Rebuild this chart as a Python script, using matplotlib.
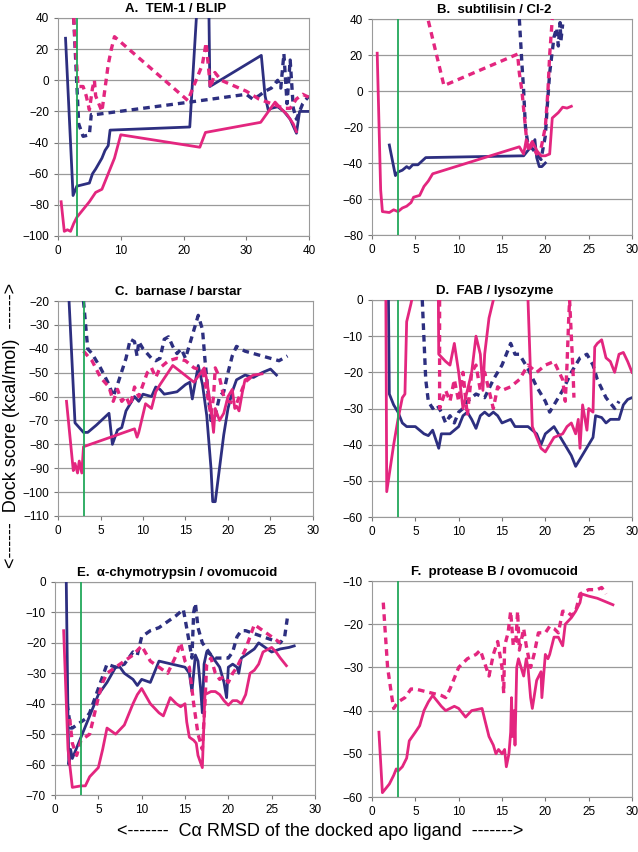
import matplotlib
matplotlib.use("Agg")
import matplotlib.pyplot as plt

plt.rcParams['font.family'] = ['Liberation Sans', 'DejaVu Sans']

NAVY = "#2d2f80"
MAGENTA = "#e3267f"
GREEN = "#22a85a"

# ---------- A. TEM-1 / BLIP ----------
a_navy_x = [1.2, 2.4, 3, 4, 5, 5.5, 6, 7, 7.5, 8, 8.3, 21, 22.5, 24, 24.2, 32.4, 33, 33.5, 34, 35, 36, 37, 38, 38.5, 40]
a_navy_y = [27, -74, -68, -67, -66, -60, -57, -50, -45, -42, -32, -30, 70, 60, -4, 16, -10, -19, -18, -17, -20, -25, -34, -20, -20]
a_navyd_x = [2.5, 3.3, 4, 5, 5.3, 6, 21, 30, 31, 32, 33, 34, 35, 35.5, 36, 36.5, 37, 37.5, 38, 39, 40]
a_navyd_y = [40, -28, -36, -35, -22, -22, -14, -9, -12, -10, -7, -5, 0, -5, 17, -15, 13, -18, -25, -15, -10]
a_mag_x = [0.5, 1, 1.5, 2, 2.5, 3, 4, 5, 5.5, 6, 7, 7.5, 8, 9, 10, 22.6, 23.5, 32.3, 34.6, 35.5, 36.5, 37.5, 38]
a_mag_y = [-78, -97, -96, -97, -92, -88, -83, -78, -75, -72, -70, -65, -60, -50, -35, -43, -33.5, -27, -14, -18, -22, -28, -33]
a_magd_x = [2.5, 3.2, 4, 4.5, 5, 5.5, 5.8, 6, 6.5, 7, 7.5, 8, 8.5, 9, 20.7, 22, 23, 23.6, 24.3, 25, 26, 30, 32, 34, 36, 37, 38, 39, 40]
a_magd_y = [40, -4, -4, -10, -19, -5, 0, -10, -15, -20, -5, 10, 20, 28, -13, 0, 10, 24, -5, 5, 0, -7, -12, -15, -18, -18, -12, -9, -11]

# ---------- B. subtilisin / CI-2 ----------
b_mag_x = [0.6, 1, 1.2, 2, 2.5, 3, 3.5, 4, 4.5, 4.8, 5.5, 6, 6.5, 7, 17, 17.5, 17.8, 18, 18.5, 19, 19.5, 20, 20.5, 20.8, 21.5, 22, 22.5, 23]
b_mag_y = [21, -55, -67, -67.5, -66, -67, -65, -64, -62, -59, -58, -53, -50, -46, -31, -35, -27, -32, -28, -33, -36, -36, -35, -15, -12, -9, -9.5, -8.5]
b_navy_x = [2, 2.7, 3, 3.5, 4, 4.3, 4.7, 5.3, 6.2, 17.5, 18, 18.5, 18.8, 19, 19.3, 19.6, 20]
b_navy_y = [-30, -47, -45, -44, -42, -43, -41, -41, -37, -36, -33, -30, -27, -37, -42, -42, -40]
b_navyd_x = [17, 17.3, 17.5, 17.7, 18, 18.5, 19, 19.5, 20, 20.2, 20.5, 21, 21.3, 21.5, 21.7, 21.8, 22]
b_navyd_y = [40, 15, 0, -20, -30, -32, -35, -38, -25, -10, 10, 30, 35, 25, 38, 28, 37]
b_magd_x = [6.5, 8.3, 16.8, 17, 17.3, 17.5, 17.8, 18, 18.5, 19, 19.5, 20, 20.3, 20.5, 20.8]
b_magd_y = [39, 3, 20.5, 10, 0, -10, -25, -33, -30, -35, -32, -20, 0, 20, 40]

# ---------- C. barnase / barstar ----------
c_navy_x = [1.3, 2, 3, 3.5, 4.5, 6, 6.4, 7, 7.5, 8, 8.5, 9, 9.5, 10, 11, 11.5, 12, 12.5, 14, 15, 15.5, 15.8, 16.5, 17, 17.5, 18, 18.2, 18.5, 19, 19.5, 20, 20.5, 21, 22, 23, 24, 25, 25.7]
c_navy_y = [-20, -71, -75, -75, -72, -67, -80, -74, -73, -66, -63, -60, -62, -59, -60, -56, -57, -59, -58, -55, -54, -61, -47, -55, -68, -90, -104, -104, -90, -76, -65, -58, -53, -51, -52, -50, -48.5, -51]
c_navyd_x = [3, 3.5, 4, 5, 6, 6.5, 7, 8, 8.5, 9, 9.3, 9.5, 10, 10.5, 11, 11.5, 12, 12.5, 13, 13.5, 14, 14.5, 15, 15.5, 16, 16.5, 17, 17.3, 17.7, 18, 18.5, 19, 19.5, 20, 20.5, 21, 22, 23, 25, 26, 27]
c_navyd_y = [-20, -40, -42, -48, -55, -60, -55, -44, -36, -37, -43, -37, -40, -42, -44, -45, -44, -36, -35, -39, -42, -40, -44, -38, -32, -26, -32, -45, -60, -70, -68, -60, -58, -50, -43, -39, -41, -42, -44, -45, -43]
c_mag_x = [1, 1.8, 2, 2.3, 2.5, 2.8, 3, 9, 9.3, 9.5, 10.3, 11, 11.5, 12, 13.5, 16, 16.8, 17.2, 17.5, 18, 18.3, 18.5, 19, 19.5, 20, 20.5, 20.8, 21, 21.3, 21.7, 22, 23, 24]
c_mag_y = [-62, -91, -88, -92, -87, -92, -81, -73.5, -77, -75, -63, -65, -58, -55, -47, -54, -50, -48, -53, -65, -75, -65, -70, -67, -60, -57, -65, -64, -66, -58, -53, -51, -50.5]
c_magd_x = [3, 4, 5, 6, 6.5, 7, 7.5, 8, 8.5, 9, 9.5, 10, 10.5, 11, 11.5, 12, 13, 14, 15, 16, 17, 17.5, 18, 18.3, 18.5, 19, 19.5, 20, 21, 22, 23]
c_magd_y = [-41, -45, -52, -56, -62, -57, -62, -60, -64, -56, -60, -55, -50, -48, -52, -48, -45, -44, -45, -48, -49, -58, -68, -60, -48, -52, -60, -62, -63, -54, -51]

# ---------- D. FAB / lysozyme ----------
d_navy_x = [1.9, 2, 2.5, 3, 3.5, 4, 5, 5.5, 6, 6.5, 7, 7.7, 8, 9, 9.5, 10, 10.5, 11, 11.5, 12, 12.5, 13, 13.5, 14, 14.5, 15, 16, 16.5, 17, 18, 18.5, 19, 19.5, 20, 21, 22, 23, 23.5, 24, 25, 25.5, 25.8, 26.5, 27, 27.5, 28.5, 29, 29.5, 30]
d_navy_y = [0, -26, -29, -31, -34, -35, -35, -36, -37, -37.5, -36, -41, -37, -37, -36, -35, -32, -31, -33, -35.5, -32, -31, -32, -31, -32, -34, -33, -35, -35, -35, -36, -37, -40, -37, -35, -39, -43, -46, -44, -40, -38, -32, -32.5, -34, -33, -33, -29, -27.5, -27]
d_navyd_x = [5.8, 6.2, 6.5, 7, 7.5, 8, 8.5, 9, 9.5, 10, 10.5, 11, 11.5, 12, 13, 14, 15, 16, 16.5, 17, 18, 19, 20, 20.5, 21, 22, 23, 24, 24.8, 25.5, 26, 27, 28, 28.5]
d_navyd_y = [0, -22, -28, -30, -29, -31, -34, -32, -34, -31, -30, -28, -27, -26, -27, -22, -18, -12, -15, -15, -19, -24, -28, -31, -29, -25, -20, -16, -15, -18, -22, -27, -30, -28]
d_mag_x = [1.6, 1.7, 2.5, 3, 3.5, 3.8, 4, 4.5, 5, 6.3, 7.6, 7.7, 8.5, 9, 9.5, 10, 10.5, 11, 11.5, 12, 12.5, 12.8, 13, 13.5, 14, 15.5, 17.5, 18, 18.5, 19, 19.5, 20, 20.5, 21, 22, 22.5, 23, 23.5, 23.8, 24, 24.3, 24.8, 25, 25.5, 25.7, 26, 26.5, 27, 27.5, 28, 28.5, 29, 29.5, 30]
d_mag_y = [0, -53, -40, -33, -27, -26, -6, -1, 5, 30, 20, -15, -17, -18, -12, -20, -30, -25, -20, -10, -15, -25, -15, -5, 0, 10, 10, 0, -35, -38, -41, -42, -40, -38, -37, -35, -34, -37, -33, -41, -29, -36, -30, -31, -13, -12, -11, -16, -17, -20, -15, -14.5, -17, -20]
d_magd_x = [7.8, 7.8, 8.5, 9, 9.5, 10, 10.5, 11, 11.5, 12, 12.5, 13, 13.5, 14, 14.5, 15, 16, 17, 18, 19, 20, 21, 22, 22.3, 22.5, 22.7, 22.8, 23, 23.2, 23.3]
d_magd_y = [0, -30, -25, -28, -22, -28, -20, -32, -20, -18, -25, -20, -25, -30, -24, -25, -24, -22, -18, -20, -18, -17, -22, -28, -18, -5, 0, -10, -20, -27]

# ---------- E. alpha-chymotrypsin / ovomucoid ----------
e_navy_x = [1.3, 1.5, 1.6, 1.8, 2, 3, 4, 5, 6, 7, 7.5, 8, 9, 9.5, 10, 11, 12, 15, 15.5, 15.8, 16.2, 16.5, 16.8, 17, 17.2, 17.5, 18, 18.5, 19, 19.5, 19.8, 20, 20.5, 21, 21.2, 21.5, 22, 23, 23.5, 24, 25, 26, 27, 27.6]
e_navy_y = [0, -45, -60, -55, -58, -51, -44, -37, -33, -28, -28, -30, -32, -34, -32, -33, -26, -28, -30, -36, -24, -26, -35, -43, -27, -23, -24, -26, -28, -33, -38, -28, -27, -28, -30, -25, -24, -22, -20, -21, -23, -22, -21.5, -21]
e_navyd_x = [1.4, 1.8, 2, 3, 3.5, 4, 5, 6, 6.5, 7, 8, 9, 9.5, 10, 11, 12, 13, 14, 14.8, 15, 15.5, 15.8, 16, 16.2, 16.5, 17, 17.5, 18, 18.5, 19, 19.5, 20, 20.5, 21, 21.5, 22, 23, 24, 25, 26, 26.5, 26.8]
e_navyd_y = [-40, -48, -48, -46, -45, -43, -35, -27, -27.5, -28, -27, -23, -24, -18, -16, -15, -13, -11, -9, -12, -20, -25, -10, -7, -15, -20, -22, -24, -25, -25, -25, -25, -23, -18, -16, -16, -17, -18, -19, -20, -18, -12]
e_mag_x = [1, 1.5, 2, 3, 3.5, 4, 5, 5.5, 6, 6.5, 7, 8, 9, 9.5, 10, 11, 12, 12.5, 13.3, 14, 14.5, 15, 15.2, 15.5, 16, 16.3, 16.5, 17, 17.3, 18, 18.5, 19, 19.5, 20, 20.5, 21, 21.5, 22, 22.5, 23, 23.5, 24, 25, 25.5, 26, 26.7]
e_mag_y = [-16, -55, -67.5, -67, -67, -64, -61, -55, -48, -49, -50, -47, -40, -37, -35, -40, -43, -44, -38, -40, -41, -40, -46, -51, -52, -53, -57, -61, -37, -36, -36, -37, -39, -40.5, -39, -39, -40, -37, -30, -29, -27, -23, -21.5, -23, -25, -27.5]
e_magd_x = [1.7, 2, 2.5, 3, 4, 5, 5.5, 6, 7, 8, 9, 10, 11, 12, 13, 14, 14.5, 15, 15.5, 16, 16.5, 17, 17.3, 17.5, 18, 18.5, 19, 19.5, 20, 20.5, 21, 22, 22.5, 23, 24, 25, 26]
e_magd_y = [-45, -53, -57, -52, -50, -38, -33, -30, -28, -26, -24, -21, -26, -28, -30, -24, -20, -26, -28, -40, -50, -55, -40, -27, -25, -30, -32, -31, -33, -30, -28, -22, -18, -14, -16, -18, -20]

# ---------- F. protease B / ovomucoid ----------
f_mag_x = [0.8, 1.2, 2, 2.5, 2.8, 3, 3.5, 4, 4.3, 5, 5.5, 6, 6.5, 7, 8, 8.5, 9, 9.5, 10, 10.8, 11.5, 12, 12.7, 13, 13.5, 14, 14.3, 14.6, 15, 15.3, 15.5, 15.8, 16, 16.1, 16.2, 16.4, 16.5, 16.7, 16.9, 17.2, 17.5, 17.8, 18, 18.3, 18.5, 19, 19.5, 19.6, 20, 20.3, 20.5, 21, 21.5, 22, 22.3, 23, 23.5, 24, 24.2, 25, 26, 27.8]
f_mag_y = [-45, -59, -57, -55, -53.5, -54, -53, -51, -47, -45, -43.5, -40, -38, -36.5, -39, -40, -39.5, -39, -39.5, -41.5, -40, -39.8, -39.5, -42, -46, -48, -50, -49, -50, -49, -53, -50, -45, -37, -46, -40, -48, -30, -28, -30, -32, -28, -30, -37, -39.5, -33, -31, -37, -27, -28, -27, -23, -23, -25, -20, -18.5, -17, -15, -13, -13.5, -14, -15.5]
f_magd_x = [1.3, 1.8, 2.3, 2.5, 3, 3.8, 4.5, 5, 6, 7, 8, 8.5, 9, 10, 11, 12, 12.5, 13, 13.5, 14, 14.5, 15, 15.2, 15.3, 15.7, 16, 16.3, 16.6, 16.8, 17, 17.5, 17.8, 18.3, 18.7, 19.2, 20, 20.5, 21, 21.5, 22, 22.5, 23, 23.5, 24, 25, 26, 26.5, 27]
f_magd_y = [-15, -30, -37, -39.5, -38, -37, -35, -35, -35.5, -36, -36.5, -37, -35, -30, -28, -27, -26, -29, -32, -27, -24, -30, -36, -25, -22, -17, -25, -24, -17, -26, -21, -25, -30, -27, -22, -22, -20.5, -21, -22, -17, -17, -18, -17, -13, -12, -12, -11.5, -13]

panels = [
    ("A.  TEM-1 / BLIP", (0, 40), range(0, 41, 10), (-100, 40), range(-100, 41, 20),
     [(a_navy_x, a_navy_y, NAVY, "-"), (a_navyd_x, a_navyd_y, NAVY, "--"),
      (a_mag_x, a_mag_y, MAGENTA, "-"), (a_magd_x, a_magd_y, MAGENTA, "--")]),
    ("B.  subtilisin / CI-2", (0, 30), range(0, 31, 5), (-80, 40), range(-80, 41, 20),
     [(b_navy_x, b_navy_y, NAVY, "-"), (b_navyd_x, b_navyd_y, NAVY, "--"),
      (b_mag_x, b_mag_y, MAGENTA, "-"), (b_magd_x, b_magd_y, MAGENTA, "--")]),
    ("C.  barnase / barstar", (0, 30), range(0, 31, 5), (-110, -20), range(-110, -19, 10),
     [(c_navy_x, c_navy_y, NAVY, "-"), (c_navyd_x, c_navyd_y, NAVY, "--"),
      (c_mag_x, c_mag_y, MAGENTA, "-"), (c_magd_x, c_magd_y, MAGENTA, "--")]),
    ("D.  FAB / lysozyme", (0, 30), range(0, 31, 5), (-60, 0), range(-60, 1, 10),
     [(d_navy_x, d_navy_y, NAVY, "-"), (d_navyd_x, d_navyd_y, NAVY, "--"),
      (d_mag_x, d_mag_y, MAGENTA, "-"), (d_magd_x, d_magd_y, MAGENTA, "--")]),
    ("E.  \u03b1-chymotrypsin / ovomucoid", (0, 30), range(0, 31, 5), (-70, 0), range(-70, 1, 10),
     [(e_navy_x, e_navy_y, NAVY, "-"), (e_navyd_x, e_navyd_y, NAVY, "--"),
      (e_mag_x, e_mag_y, MAGENTA, "-"), (e_magd_x, e_magd_y, MAGENTA, "--")]),
    ("F.  protease B / ovomucoid", (0, 30), range(0, 31, 5), (-60, -10), range(-60, -9, 10),
     [(f_mag_x, f_mag_y, MAGENTA, "-"), (f_magd_x, f_magd_y, MAGENTA, "--")]),
]

# axes positions in pixels: left, top, right, bottom
boxes = [
    (58, 18, 309, 236), (372, 19, 632, 235),
    (58, 301, 313, 516), (372, 300, 632, 517),
    (55, 582, 315, 795), (372, 581, 632, 797),
]

W, H = 638, 852
fig = plt.figure(figsize=(W / 100, H / 100), dpi=100)

for (title, xl, xt, yl, yt, series), (l, t, r, b) in zip(panels, boxes):
    ax = fig.add_axes([l / W, 1 - b / H, (r - l) / W, (b - t) / H])
    for x, y, c, ls in series:
        if ls == "--":
            ax.plot(x, y, color=c, lw=2.4, linestyle=(0, (2.0, 1.5)), zorder=3)
        else:
            ax.plot(x, y, color=c, lw=2.0, zorder=3)
    ax.axvline(3, color=GREEN, lw=1.3, zorder=4)
    ax.set_xlim(*xl)
    ax.set_ylim(*yl)
    ax.set_xticks(list(xt))
    ax.set_yticks(list(yt))
    ax.yaxis.grid(True, color="#9a9a9a", lw=0.9)
    ax.set_axisbelow(True)
    for s in ax.spines.values():
        s.set_color("#9a9a9a")
    ax.tick_params(labelsize=8.5, length=3, color="#777777")
    ax.set_title(title, fontsize=9.5, fontweight="bold", pad=4, x=0.47)

fig.text(12 / W, 1 - 425 / H, "<------  Dock score (kcal/mol)  ------>", rotation=90,
         ha="center", va="center", fontsize=13)
fig.text(320 / W, 1 - 831 / H, "<-------  C\u03b1 RMSD of the docked apo ligand  ------->",
         ha="center", va="center", fontsize=13)

fig.savefig("out.png", dpi=100)
